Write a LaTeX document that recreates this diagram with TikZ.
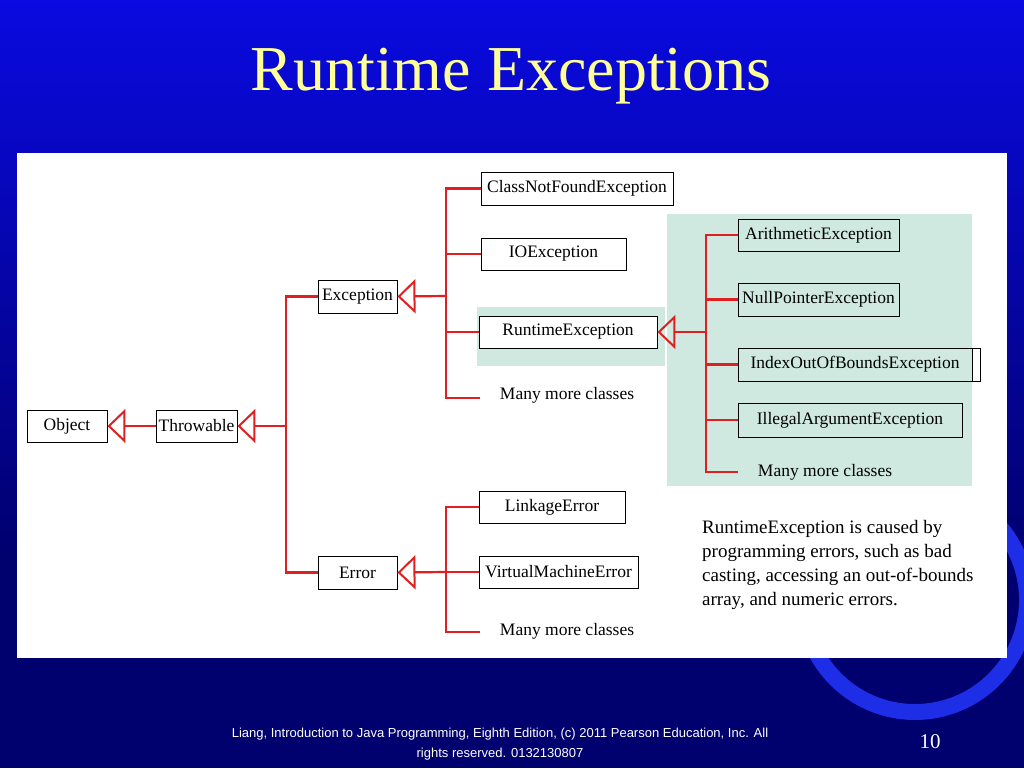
\documentclass[tikz,border=0pt]{standalone}
\usepackage{fontspec}
\setmainfont{Liberation Serif}
\newfontfamily\footfont{Liberation Sans}
\usetikzlibrary{arrows.meta}
\definecolor{lred}{HTML}{E02020}
\definecolor{pgreen}{HTML}{CFE9E0}
\definecolor{ttl}{HTML}{FFFF99}
\definecolor{bgtop}{RGB}{10,10,225}
\definecolor{bgbot}{RGB}{0,0,110}
\definecolor{ring}{RGB}{30,45,230}
\tikzset{
 cls/.style={draw=black,line width=0.9pt,fill=white,minimum height=32pt,inner sep=1pt,font=\fontsize{17.5}{19}\selectfont},
 txt/.style={font=\fontsize{17.5}{19}\selectfont},
 ln/.style={draw=lred,line width=2.2pt},
 inh/.style={ln,-{Triangle[open,length=18pt,width=34pt,line width=2pt]}}
}
\begin{document}
\begin{tikzpicture}[x=1pt,y=-1pt]
\useasboundingbox (0,0) rectangle (1024,768);
\shade[top color=bgtop,bottom color=bgbot] (0,0) rectangle (1024,560);
\fill[bgbot] (0,560) rectangle (1024,768);
\draw[line width=16pt,ring] (915,600) circle (112pt);
\node[font=\fontsize{64}{70}\selectfont,text=ttl] (title) at (511,76) {Runtime Exceptions};
\fill[white] (17,153) rectangle (1007,658);
\fill[pgreen] (477,307) rectangle (665,366);
\fill[pgreen] (667,214) rectangle (972,486);
% nodes
\node[cls,minimum width=80pt] (obj) at (67,426) {Object};
\node[cls,minimum width=81pt,inner sep=0pt] (thr) at (196.5,426) {Throwable};
\node[cls,minimum width=79pt,minimum height=33pt] (exc) at (357.5,296.5) {Exception};
\node[cls,minimum width=79pt,minimum height=33pt] (err) at (357.5,572.5) {Error};
\node[cls,minimum width=192pt,minimum height=33pt] (cnf) at (577,188.5) {ClassNotFoundException};
\node[cls,minimum width=145pt] (ioe) at (553.5,254) {IOException};
\node[cls,minimum width=178pt] (rte) at (568,332) {RuntimeException};
\node[txt] (m1) at (567,395) {Many more classes};
\node[cls,minimum width=146pt] (lke) at (552,507) {LinkageError};
\node[cls,minimum width=159pt] (vme) at (558.5,572) {VirtualMachineError};
\node[txt] (m2) at (567,631) {Many more classes};
\node[cls,fill=pgreen,minimum width=161pt] (ari) at (818.5,235) {ArithmeticException};
\node[cls,fill=pgreen,minimum width=161pt,minimum height=33pt] (npe) at (818.5,299.5) {NullPointerException};
\node[cls,fill=pgreen,minimum width=234pt,minimum height=33pt] (iob) at (855,364.5) {IndexOutOfBoundsException};
\draw[line width=0.9pt] (972,348) -- (980,348) -- (980,381) -- (972,381);
\node[cls,fill=pgreen,minimum width=224pt,minimum height=34pt] (iae) at (850,420) {IllegalArgumentException};
\node[txt] (m3) at (825,472) {Many more classes};
\node[align=left,anchor=north west,inner sep=0pt,font=\fontsize{19}{24}\selectfont] (note) at (702,520) {RuntimeException is caused by\\ programming errors, such as bad\\ casting, accessing an out-of-bounds\\ array, and numeric errors.};
% connectors
\coordinate (j0) at (286,426);
\coordinate (j1) at (446,296);
\coordinate (j2) at (706,332);
\coordinate (j3) at (446,572);
\draw[inh] (thr.west) -- (obj.east);
\draw[inh] (j0) -- (thr.east);
\draw[ln] (exc.west) -| (j0) |- (err.west);
\draw[inh] (j1) -- (exc.east);
\draw[ln] (cnf.west) -| (446,398) -- (480,398);
\draw[ln] (446,254) -- (ioe.west);
\draw[ln] (446,332) -- (rte.west);
\draw[inh] (j2) -- (rte.east);
\draw[ln] (ari.west) -| (706,472) -- (738,472);
\draw[ln] (706,299.5) -- (npe.west);
\draw[ln] (706,364.5) -- (iob.west);
\draw[ln] (706,420) -- (iae.west);
\draw[inh] (j3) -- (err.east);
\draw[ln] (lke.west) -| (446,632) -- (480,632);
\draw[ln] (446,572) -- (vme.west);
% footer
\node[text=white,align=center,font=\footfont\fontsize{13}{20}\selectfont] (foot) at (500,744) {Liang, Introduction to Java Programming, Eighth Edition, (c) 2011 Pearson Education, Inc. All\\ rights reserved. 0132130807};
\node[text=white,font=\fontsize{21}{24}\selectfont] (pg) at (930,742) {10};
\end{tikzpicture}
\end{document}
